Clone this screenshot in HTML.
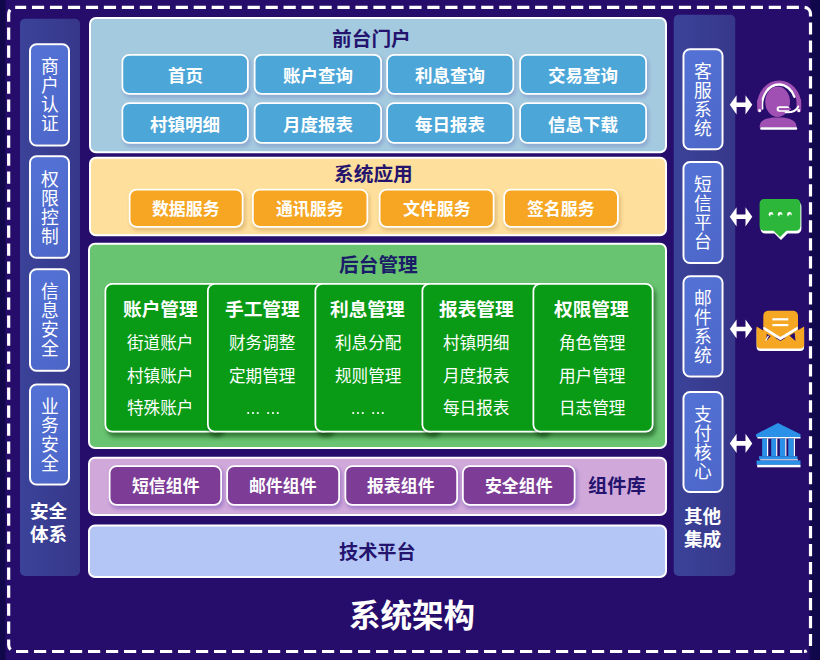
<!DOCTYPE html>
<html lang="zh-CN"><head><meta charset="utf-8"><title>系统架构</title>
<style>
html,body{margin:0;padding:0;background:#11084c;}
body{width:820px;height:660px;overflow:hidden;font-family:"Liberation Sans","Noto Sans CJK SC",sans-serif;}
#page{position:relative;width:820px;height:660px;overflow:hidden;background:linear-gradient(90deg,#11084c 0,#11084c 4.500px,#260c6b 6.600px,#260c6b 808.500px,#11084c 811.500px);}
#page div,#page h1,#page svg.g{position:absolute;box-sizing:border-box;margin:0;}
#bx{left:0;top:0;width:3280px;height:2640px;transform:scale(.25);transform-origin:0 0;}
#page span,#page b{color:transparent;font-size:64px;line-height:1;white-space:nowrap;display:block;overflow:hidden;}
svg.g{overflow:visible;pointer-events:none;}
svg.g text{font-family:"Liberation Sans","Noto Sans CJK SC",sans-serif;text-anchor:middle;}
svg.g text.bd{font-weight:bold;}
.edge{background:linear-gradient(90deg,#1b0a5c,#11084c 3px);}
.side{background:linear-gradient(90deg,#3a4399,#37378a);border-radius:20px;}
.sbtn{background:linear-gradient(135deg,#5472d6,#4c66c8);border:8px solid #fff;border-radius:30px;}
.sbtn span{width:64px;white-space:normal !important;margin:40px auto;}
.panel{border:8px solid #fff;border-radius:28px;}
.panel .pt{text-align:center;margin-top:32px;}
.p1{background:#a4cadf;}
.p2{background:#fedf9c;}
.p3{background:#68c471;}
.p4{background:#d0a8da;}
.p5{background:#b4c6f5;}
.btn{border:7px solid #fff;border-radius:31px;box-shadow:7px 10px 14px rgba(60,50,160,.2);text-align:center;}
.btn span{margin-top:40px;}
.b1{background:#4da6d8;}
.b2{background:#f6a623;box-shadow:7px 10px 14px rgba(150,95,20,.24);}
.b4{background:#7d3c96;box-shadow:7px 10px 14px rgba(70,40,170,.3);}
.card{background:#0a9b16;border:7px solid #fff;border-radius:31px;box-shadow:10px 16px 18px rgba(0,50,0,.5);text-align:center;}
.card b{margin:56px 0 40px;}
.card span{margin:56px 0;}
.cap,.cap2,.ttl{font-size:16px;}
.cap span,.cap2 span,.ttl span{font-size:16px !important;}
.cap{width:40px;height:44px;}
.cap2{width:56px;height:22px;}
.ttl{width:128px;height:36px;}

</style></head>
<body>
<div id="page">
<div id="bx">
<div class="side" style="left:80px;top:75px;width:240px;height:2229px;"></div>
<div class="side" style="left:2695px;top:59px;width:246px;height:2245px;"></div>
<div class="sbtn" style="left:116px;top:173px;width:164px;height:413px;"><span>商户认证</span></div>
<div class="sbtn" style="left:116px;top:621px;width:164px;height:414px;"><span>权限控制</span></div>
<div class="sbtn" style="left:116px;top:1073px;width:164px;height:414px;"><span>信息安全</span></div>
<div class="sbtn" style="left:116px;top:1534px;width:164px;height:408px;"><span>业务安全</span></div>
<div class="sbtn" style="left:2730px;top:193px;width:164px;height:408px;"><span>客服系统</span></div>
<div class="sbtn" style="left:2730px;top:644px;width:164px;height:412px;"><span>短信平台</span></div>
<div class="sbtn" style="left:2730px;top:1101px;width:164px;height:409px;"><span>邮件系统</span></div>
<div class="sbtn" style="left:2730px;top:1564px;width:164px;height:408px;"><span>支付核心</span></div>
<div class="panel p1" style="left:356px;top:68px;width:2312px;height:545px;"><span class="pt">前台门户</span></div>
<div class="btn b1" style="left:486px;top:216px;width:509px;height:163px;"><span>首页</span></div>
<div class="btn b1" style="left:1015px;top:216px;width:513px;height:163px;"><span>账户查询</span></div>
<div class="btn b1" style="left:1545px;top:216px;width:512px;height:163px;"><span>利息查询</span></div>
<div class="btn b1" style="left:2077px;top:216px;width:511px;height:163px;"><span>交易查询</span></div>
<div class="btn b1" style="left:486px;top:409px;width:509px;height:166px;"><span>村镇明细</span></div>
<div class="btn b1" style="left:1015px;top:409px;width:513px;height:166px;"><span>月度报表</span></div>
<div class="btn b1" style="left:1545px;top:409px;width:512px;height:166px;"><span>每日报表</span></div>
<div class="btn b1" style="left:2077px;top:409px;width:511px;height:166px;"><span>信息下载</span></div>
<div class="panel p2" style="left:356px;top:627px;width:2312px;height:318px;"><span class="pt">系统应用</span></div>
<div class="btn b2" style="left:515px;top:755px;width:459px;height:156px;"><span>数据服务</span></div>
<div class="btn b2" style="left:1008px;top:755px;width:465px;height:156px;"><span>通讯服务</span></div>
<div class="btn b2" style="left:1515px;top:755px;width:463px;height:156px;"><span>文件服务</span></div>
<div class="btn b2" style="left:2013px;top:755px;width:462px;height:156px;"><span>签名服务</span></div>
<div class="panel p3" style="left:352px;top:971px;width:2316px;height:825px;"><span class="pt">后台管理</span></div>
<div class="card" style="left:418px;top:1132px;width:470px;height:598px;"><b>账户管理</b><span>街道账户</span><span>村镇账户</span><span>特殊账户</span></div>
<div class="card" style="left:828px;top:1132px;width:500px;height:598px;"><b>手工管理</b><span>财务调整</span><span>定期管理</span><span>... ...</span></div>
<div class="card" style="left:1258px;top:1132px;width:494px;height:598px;"><b>利息管理</b><span>利息分配</span><span>规则管理</span><span>... ...</span></div>
<div class="card" style="left:1686px;top:1132px;width:506px;height:598px;"><b>报表管理</b><span>村镇明细</span><span>月度报表</span><span>每日报表</span></div>
<div class="card" style="left:2130px;top:1132px;width:484px;height:598px;"><b>权限管理</b><span>角色管理</span><span>用户管理</span><span>日志管理</span></div>
<div class="panel p4" style="left:352px;top:1827px;width:2316px;height:237px;"></div>
<div class="btn b4" style="left:435px;top:1861px;width:453px;height:162px;"><span>短信组件</span></div>
<div class="btn b4" style="left:905px;top:1861px;width:455px;height:162px;"><span>邮件组件</span></div>
<div class="btn b4" style="left:1378px;top:1861px;width:454px;height:162px;"><span>报表组件</span></div>
<div class="btn b4" style="left:1848px;top:1861px;width:454px;height:162px;"><span>安全组件</span></div>
<div class="panel p5" style="left:352px;top:2098px;width:2316px;height:214px;"><span class="pt">技术平台</span></div>
</div>
<svg class="g" style="left:0;top:0" width="820" height="660" fill="none" stroke="#fff" stroke-width="3.2"><path d="M15.17 7.4H804A6.5 6.5 0 0 1 810.5 13.9" stroke-dasharray="12.2 5.77" stroke-dashoffset="1.17"/><path d="M810.5 13.9V645A6.5 6.5 0 0 1 804 651.5" stroke-dasharray="12.2 5.79" stroke-dashoffset="9.5"/><path d="M804 651.5H15.17A6.5 6.5 0 0 1 8.67 645" stroke-dasharray="12.2 5.8" stroke-dashoffset="16.2"/><path d="M8.67 645V13.9A6.5 6.5 0 0 1 15.17 7.4" stroke-dasharray="12.2 5.8" stroke-dashoffset="6.8"/></svg>
<div class="edge" style="left:808.6px;top:646px;width:11.4px;height:14px"></div>
<svg class="g" style="left:40.64px;top:57.29px" width="17.82" height="74.82" fill="#fff" font-size="17.8"><text x="8.91" y="16.4">商</text><text x="8.91" y="35.1">户</text><text x="8.91" y="53.8">认</text><text x="8.91" y="72.5">证</text></svg>
<svg class="g" style="left:40.64px;top:169.59px" width="17.82" height="74.82" fill="#fff" font-size="17.8"><text x="8.91" y="16.4">权</text><text x="8.91" y="35.1">限</text><text x="8.91" y="53.8">控</text><text x="8.91" y="72.5">制</text></svg>
<svg class="g" style="left:40.64px;top:282.44px" width="17.82" height="74.82" fill="#fff" font-size="17.8"><text x="8.91" y="16.4">信</text><text x="8.91" y="35.1">息</text><text x="8.91" y="53.8">安</text><text x="8.91" y="72.5">全</text></svg>
<svg class="g" style="left:40.64px;top:397.04px" width="17.82" height="74.82" fill="#fff" font-size="17.8"><text x="8.91" y="16.4">业</text><text x="8.91" y="35.1">务</text><text x="8.91" y="53.8">安</text><text x="8.91" y="72.5">全</text></svg>
<svg class="g" style="left:694.24px;top:61.69px" width="17.82" height="74.82" fill="#fff" font-size="17.8"><text x="8.91" y="16.4">客</text><text x="8.91" y="35.1">服</text><text x="8.91" y="53.8">系</text><text x="8.91" y="72.5">统</text></svg>
<svg class="g" style="left:694.24px;top:174.89px" width="17.82" height="74.82" fill="#fff" font-size="17.8"><text x="8.91" y="16.4">短</text><text x="8.91" y="35.1">信</text><text x="8.91" y="53.8">平</text><text x="8.91" y="72.5">台</text></svg>
<svg class="g" style="left:694.24px;top:288.84px" width="17.82" height="74.82" fill="#fff" font-size="17.8"><text x="8.91" y="16.4">邮</text><text x="8.91" y="35.1">件</text><text x="8.91" y="53.8">系</text><text x="8.91" y="72.5">统</text></svg>
<svg class="g" style="left:694.24px;top:404.59px" width="17.82" height="74.82" fill="#fff" font-size="17.8"><text x="8.91" y="16.4">支</text><text x="8.91" y="35.1">付</text><text x="8.91" y="53.8">核</text><text x="8.91" y="72.5">心</text></svg>
<div class="cap" style="left:28.7px;top:500.4px"><span>安全<br>体系</span></div>
<svg class="g" style="left:30.12px;top:501.9px" width="37.17" height="18.4" fill="#fff"><text class="bd" x="18.585" y="16.2" font-size="18.6">安全</text></svg>
<svg class="g" style="left:30.12px;top:524.5px" width="37.17" height="18.4" fill="#fff"><text class="bd" x="18.585" y="16.2" font-size="18.6">体系</text></svg>
<div class="cap" style="left:682.4px;top:505.7px"><span>其他<br>集成</span></div>
<svg class="g" style="left:683.82px;top:507.2px" width="37.17" height="18.4" fill="#fff"><text class="bd" x="18.585" y="16.2" font-size="18.6">其他</text></svg>
<svg class="g" style="left:683.82px;top:529.8px" width="37.17" height="18.4" fill="#fff"><text class="bd" x="18.585" y="16.2" font-size="18.6">集成</text></svg>
<svg class="g" style="left:331.59px;top:29.1px" width="78.81" height="19" fill="#24146e"><text class="bd" x="39.4" y="16.7" font-size="19.7">前台门户</text></svg>
<svg class="g" style="left:167.63px;top:66.75px" width="34.98" height="16.5" fill="#fff"><text class="bd" x="17.49" y="14.5" font-size="17.5">首页</text></svg>
<svg class="g" style="left:282.84px;top:66.75px" width="69.96" height="16.5" fill="#fff"><text class="bd" x="34.98" y="14.5" font-size="17.5">账户查询</text></svg>
<svg class="g" style="left:415.27px;top:66.75px" width="69.96" height="16.5" fill="#fff"><text class="bd" x="34.98" y="14.5" font-size="17.5">利息查询</text></svg>
<svg class="g" style="left:548.14px;top:66.75px" width="69.96" height="16.5" fill="#fff"><text class="bd" x="34.98" y="14.5" font-size="17.5">交易查询</text></svg>
<svg class="g" style="left:150.14px;top:116px" width="69.96" height="16.5" fill="#fff"><text class="bd" x="34.98" y="14.5" font-size="17.5">村镇明细</text></svg>
<svg class="g" style="left:282.84px;top:116px" width="69.96" height="16.5" fill="#fff"><text class="bd" x="34.98" y="14.5" font-size="17.5">月度报表</text></svg>
<svg class="g" style="left:415.27px;top:116px" width="69.96" height="16.5" fill="#fff"><text class="bd" x="34.98" y="14.5" font-size="17.5">每日报表</text></svg>
<svg class="g" style="left:548.14px;top:116px" width="69.96" height="16.5" fill="#fff"><text class="bd" x="34.98" y="14.5" font-size="17.5">信息下载</text></svg>
<svg class="g" style="left:334.29px;top:164.2px" width="78.81" height="19" fill="#24146e"><text class="bd" x="39.4" y="16.7" font-size="19.7">系统应用</text></svg>
<svg class="g" style="left:152.36px;top:200.65px" width="67.52" height="16.2" fill="#fff"><text class="bd" x="33.76" y="14.3" font-size="16.9">数据服务</text></svg>
<svg class="g" style="left:276.36px;top:200.65px" width="67.52" height="16.2" fill="#fff"><text class="bd" x="33.76" y="14.3" font-size="16.9">通讯服务</text></svg>
<svg class="g" style="left:402.86px;top:200.65px" width="67.52" height="16.2" fill="#fff"><text class="bd" x="33.76" y="14.3" font-size="16.9">文件服务</text></svg>
<svg class="g" style="left:527.24px;top:200.65px" width="67.52" height="16.2" fill="#fff"><text class="bd" x="33.76" y="14.3" font-size="16.9">签名服务</text></svg>
<svg class="g" style="left:338.59px;top:255px" width="78.81" height="19" fill="#1b1c68"><text class="bd" x="39.4" y="16.7" font-size="19.7">后台管理</text></svg>
<svg class="g" style="left:122.87px;top:300.18px" width="74.65" height="18.05" fill="#fff"><text class="bd" x="37.32" y="15.9" font-size="18.7">账户管理</text></svg>
<svg class="g" style="left:127.02px;top:335px" width="66.37" height="16" fill="#fff"><text x="33.18" y="14.1" font-size="16.6">街道账户</text></svg>
<svg class="g" style="left:127.02px;top:367.5px" width="66.37" height="16" fill="#fff"><text x="33.18" y="14.1" font-size="16.6">村镇账户</text></svg>
<svg class="g" style="left:127.02px;top:400px" width="66.37" height="16" fill="#fff"><text x="33.18" y="14.1" font-size="16.6">特殊账户</text></svg>
<svg class="g" style="left:224.67px;top:300.18px" width="74.65" height="18.05" fill="#fff"><text class="bd" x="37.32" y="15.9" font-size="18.7">手工管理</text></svg>
<svg class="g" style="left:228.82px;top:335px" width="66.37" height="16" fill="#fff"><text x="33.18" y="14.1" font-size="16.6">财务调整</text></svg>
<svg class="g" style="left:228.82px;top:367.5px" width="66.37" height="16" fill="#fff"><text x="33.18" y="14.1" font-size="16.6">定期管理</text></svg>
<svg class="g" style="left:242.5px;top:410.4px" width="40" height="6" fill="#fff"><circle cx="5.2" cy="3" r="1.1"/><circle cx="10" cy="3" r="1.1"/><circle cx="14.8" cy="3" r="1.1"/><circle cx="25.2" cy="3" r="1.1"/><circle cx="30" cy="3" r="1.1"/><circle cx="34.8" cy="3" r="1.1"/></svg>
<svg class="g" style="left:330.47px;top:300.18px" width="74.65" height="18.05" fill="#fff"><text class="bd" x="37.32" y="15.9" font-size="18.7">利息管理</text></svg>
<svg class="g" style="left:334.62px;top:335px" width="66.37" height="16" fill="#fff"><text x="33.18" y="14.1" font-size="16.6">利息分配</text></svg>
<svg class="g" style="left:334.62px;top:367.5px" width="66.37" height="16" fill="#fff"><text x="33.18" y="14.1" font-size="16.6">规则管理</text></svg>
<svg class="g" style="left:348.3px;top:410.4px" width="40" height="6" fill="#fff"><circle cx="5.2" cy="3" r="1.1"/><circle cx="10" cy="3" r="1.1"/><circle cx="14.8" cy="3" r="1.1"/><circle cx="25.2" cy="3" r="1.1"/><circle cx="30" cy="3" r="1.1"/><circle cx="34.8" cy="3" r="1.1"/></svg>
<svg class="g" style="left:438.97px;top:300.18px" width="74.65" height="18.05" fill="#fff"><text class="bd" x="37.32" y="15.9" font-size="18.7">报表管理</text></svg>
<svg class="g" style="left:443.12px;top:335px" width="66.37" height="16" fill="#fff"><text x="33.18" y="14.1" font-size="16.6">村镇明细</text></svg>
<svg class="g" style="left:443.12px;top:367.5px" width="66.37" height="16" fill="#fff"><text x="33.18" y="14.1" font-size="16.6">月度报表</text></svg>
<svg class="g" style="left:443.12px;top:400px" width="66.37" height="16" fill="#fff"><text x="33.18" y="14.1" font-size="16.6">每日报表</text></svg>
<svg class="g" style="left:554.47px;top:300.18px" width="74.65" height="18.05" fill="#fff"><text class="bd" x="37.32" y="15.9" font-size="18.7">权限管理</text></svg>
<svg class="g" style="left:558.62px;top:335px" width="66.37" height="16" fill="#fff"><text x="33.18" y="14.1" font-size="16.6">角色管理</text></svg>
<svg class="g" style="left:558.62px;top:367.5px" width="66.37" height="16" fill="#fff"><text x="33.18" y="14.1" font-size="16.6">用户管理</text></svg>
<svg class="g" style="left:558.62px;top:400px" width="66.37" height="16" fill="#fff"><text x="33.18" y="14.1" font-size="16.6">日志管理</text></svg>
<svg class="g" style="left:131.56px;top:477.95px" width="67.52" height="16.2" fill="#fff"><text class="bd" x="33.76" y="14.3" font-size="16.9">短信组件</text></svg>
<svg class="g" style="left:249.36px;top:477.95px" width="67.52" height="16.2" fill="#fff"><text class="bd" x="33.76" y="14.3" font-size="16.9">邮件组件</text></svg>
<svg class="g" style="left:367.49px;top:477.95px" width="67.52" height="16.2" fill="#fff"><text class="bd" x="33.76" y="14.3" font-size="16.9">报表组件</text></svg>
<svg class="g" style="left:485.04px;top:477.95px" width="67.52" height="16.2" fill="#fff"><text class="bd" x="33.76" y="14.3" font-size="16.9">安全组件</text></svg>
<div class="cap2" style="left:588.7px;top:475.4px"><span>组件库</span></div>
<svg class="g" style="left:587.77px;top:477.1px" width="57.86" height="18.6" fill="#24146e"><text class="bd" x="28.93" y="16.4" font-size="19.3">组件库</text></svg>
<svg class="g" style="left:339.13px;top:542.85px" width="76.74" height="18.5" fill="#24146e"><text class="bd" x="38.37" y="16.3" font-size="19.2">技术平台</text></svg>
<h1 class="ttl" style="left:347.55px;top:597px"><span>系统架构</span></h1>
<svg class="g" style="left:348.64px;top:599.7px" width="125.83" height="30.6" fill="#fff"><text class="bd" x="62.9" y="26.9" font-size="31.5">系统架构</text></svg>
<svg class="g" style="left:0;top:0" width="820" height="660" viewBox="0 0 820 660">
<defs>
<path id="arw" d="M0 0l6.8-9.6v7.3h8.9v-7.3l6.8 9.6-6.8 9.6v-7.3h-8.9v7.3z" fill="#fff"/>
</defs>
<use href="#arw" x="729.8" y="104.8"/>
<use href="#arw" x="729.8" y="216.8"/>
<use href="#arw" x="729.8" y="329"/>
<use href="#arw" x="729.8" y="443.4"/>
<!-- headset -->
<g>
<path d="M759.3 105.500a19.900 23 0 0 1 39.800 0" fill="none" stroke="#a04fb2" stroke-width="4.200"/>
<path d="M762.300 108.500a16.600 21 0 0 1 16.800-24a16.600 19 0 0 1 15.300 12.400" fill="none" stroke="#fff" stroke-width="2.300" stroke-linecap="round"/>
<rect x="757.2" y="98.5" width="4.6" height="13.6" rx="2.2" fill="#a04fb2"/>
<rect x="796.6" y="98.5" width="4.6" height="13.6" rx="2.2" fill="#a04fb2"/>
<rect x="758.3" y="109" width="2.6" height="3.2" rx="1.2" fill="#fff"/>
<rect x="797.5" y="109" width="2.6" height="3.2" rx="1.2" fill="#fff"/>
<ellipse cx="777.6" cy="101.8" rx="12.4" ry="15.2" fill="#a04fb2"/>
<path d="M759.5 127.4c0-7.5 6-8.6 12.500-10h11.500c6.500 1.400 13.200 2.500 13.200 10z" fill="#a04fb2"/>
<rect x="760.2" y="127.3" width="37" height="2.4" rx="1" fill="#fff"/>
<path d="M798.200 106.500c-1.500 4.400-7 6-12.500 5.800" fill="none" stroke="#fff" stroke-width="2.100" stroke-linecap="round"/>
<rect x="776.600" y="106.300" width="13" height="5.400" rx="2.700" fill="#fff"/>
<rect x="778.600" y="107.900" width="12.400" height="2.300" rx="1.100" fill="#a04fb2"/>
</g>
<!-- chat bubble -->
<g>
<path id="bub" d="M764.200 198.900h31.600a4.600 4.600 0 0 1 4.600 4.600v22.700a4.600 4.600 0 0 1 -4.600 4.600h-9.300l-6.500 6.300l-6.500-6.300h-9.300a4.600 4.600 0 0 1 -4.600-4.600v-22.700a4.600 4.600 0 0 1 4.600-4.600z" fill="#fff" transform="translate(1 2.800)"/>
<path d="M764.200 198.900h31.600a4.600 4.600 0 0 1 4.600 4.600v22.700a4.600 4.600 0 0 1 -4.600 4.600h-9.300l-6.500 6.300l-6.500-6.300h-9.300a4.600 4.600 0 0 1 -4.600-4.600v-22.700a4.600 4.600 0 0 1 4.600-4.600z" fill="#2db73a"/>
<circle cx="771" cy="214.300" r="2.300" fill="#fff"/><circle cx="780.100" cy="214.300" r="2.300" fill="#fff"/><circle cx="789.400" cy="214.300" r="2.300" fill="#fff"/>
<circle cx="771.700" cy="215.800" r="1.500" fill="#2db73a"/><circle cx="780.800" cy="215.800" r="1.500" fill="#2db73a"/><circle cx="790.100" cy="215.800" r="1.500" fill="#2db73a"/>
</g>
<!-- mail -->
<g>
<path d="M768.300 310.700h24.700a5 5 0 0 1 5 5v22h-34.700v-22a5 5 0 0 1 5-5z" fill="#f5a623"/>
<rect x="772.400" y="318.200" width="15.900" height="2.200" fill="#fff"/>
<rect x="772.400" y="324" width="15.900" height="2.200" fill="#fff"/>
<path d="M756.600 328.600l23.800 14.400l23.700-14.400v18.400a4 4 0 0 1 -4 4h-39.500a4 4 0 0 1 -4-4z" fill="#fff"/>
<path d="M763.500 327.500l16.900 10.600l17.300-10.600" fill="none" stroke="#fff" stroke-width="2"/>
<path d="M756.600 326.600l23.800 14.400l23.700-14.400v17.900a4 4 0 0 1 -4 4h-39.500a4 4 0 0 1 -4-4z" fill="#f5a623"/>
<path d="M763.800 329.800v-2.300l16.600 10.400l17-10.400v2.300l-17 10.500z" fill="#fff"/>
<path d="M766.600 333.800l4 2.500l-4 4.500z" fill="#260c6b"/>
<path d="M789.600 335.700l5-3.100l0.900 8.400z" fill="#260c6b"/>
<path d="M765.700 340.700l2.800-5" fill="none" stroke="#fff" stroke-width="1.200"/>
</g>
<!-- bank -->
<g fill="#2b90e8">
<path d="M756.100 434.200l21.800-11.300l22.600 11.300v2.900h-44.400z"/>
<rect x="757.400" y="437" width="43.100" height="1.500" fill="#fff"/>
<rect x="762.100" y="438.500" width="4.900" height="17.700"/><rect x="767" y="438.500" width="1.200" height="17.700" fill="#fff"/>
<rect x="771.200" y="438.500" width="4.900" height="17.700"/><rect x="776.100" y="438.500" width="1.200" height="17.700" fill="#fff"/>
<rect x="779.800" y="438.500" width="5.400" height="17.700"/><rect x="785.200" y="438.500" width="1.200" height="17.700" fill="#fff"/>
<rect x="788.300" y="438.500" width="5.500" height="17.700"/><rect x="793.800" y="438.500" width="1.200" height="17.700" fill="#fff"/>
<rect x="759" y="456.200" width="38.400" height="3.100"/>
<rect x="760.200" y="459.300" width="37.800" height="1.200" fill="#fff"/>
<rect x="756.600" y="460.500" width="43.900" height="4.300"/>
<rect x="757.200" y="464.800" width="43.300" height="2.500" fill="#fff"/>
</g>
</svg>

</div>
</body></html>
